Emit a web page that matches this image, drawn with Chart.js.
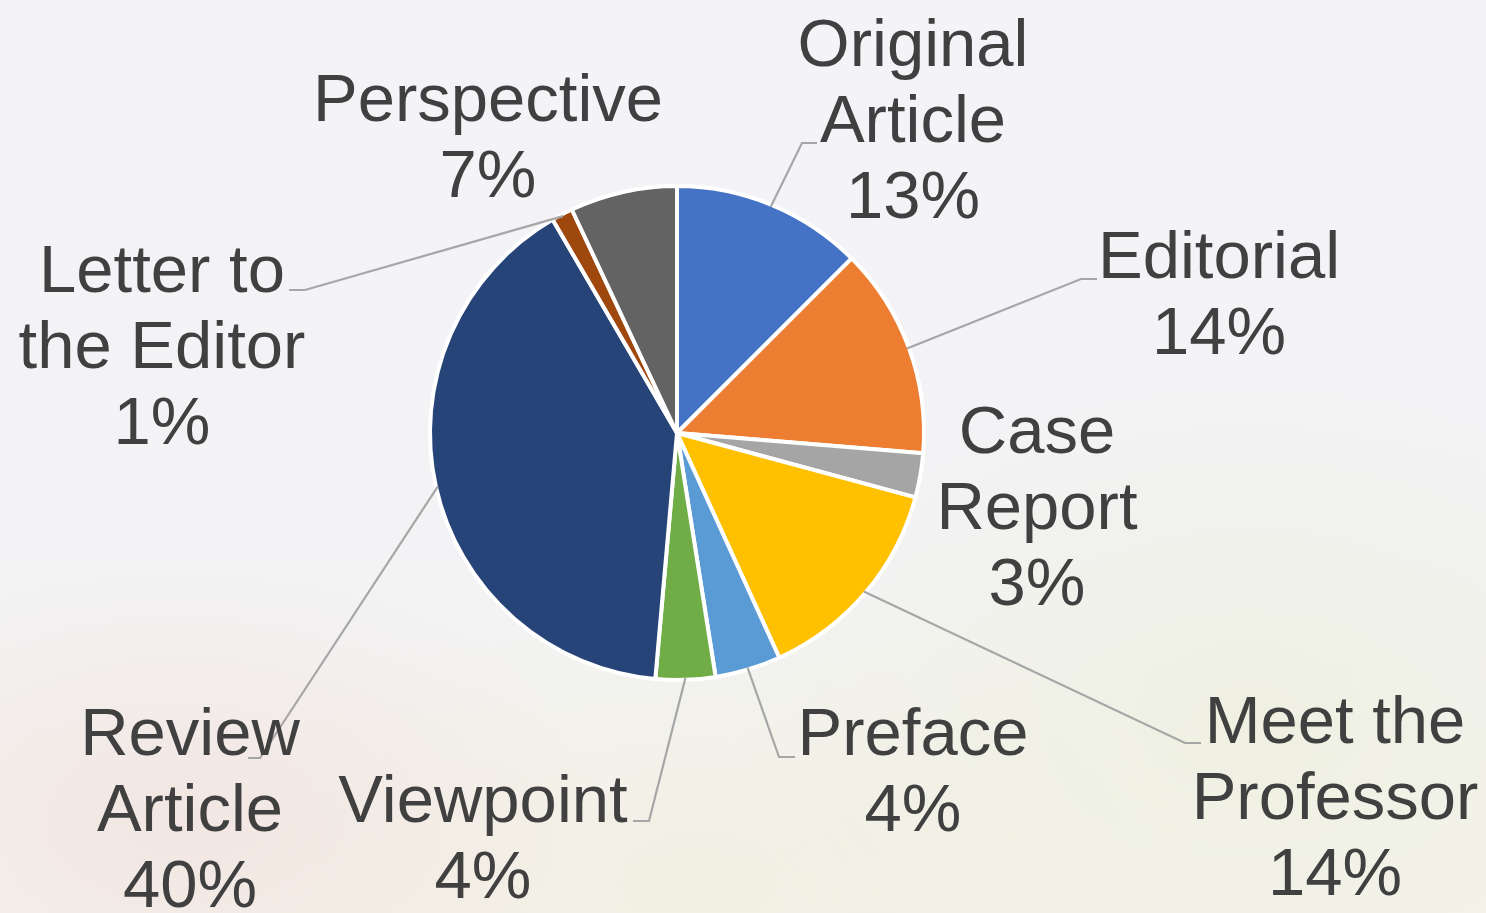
<!DOCTYPE html>
<html>
<head>
<meta charset="utf-8">
<script src="https://cdn.jsdelivr.net/npm/chart.js@4/dist/chart.umd.min.js"></script>
<style>
    html, body {
        margin: 0;
        padding: 0;
        width: 1486px;
        height: 913px;
        overflow: hidden;
    }
    body {
        background:
            radial-gradient(ellipse 420px 260px at 180px 820px, rgba(240, 214, 208, 0.45), rgba(240, 214, 208, 0) 100%),
            radial-gradient(ellipse 520px 360px at 1250px 720px, rgba(234, 236, 206, 0.45), rgba(234, 236, 206, 0) 100%),
            radial-gradient(ellipse 500px 300px at 700px 880px, rgba(240, 236, 214, 0.5), rgba(240, 236, 214, 0) 100%),
            linear-gradient(to bottom, #f4f4f8 0%, #f3f3f6 55%, #f4f3ee 100%);
    }
    #wrap {
        position: absolute;
        left: 0;
        top: 0;
        width: 1486px;
        height: 913px;
    }
</style>
</head>
<body>
<div id="wrap"><canvas id="pieChart"></canvas></div>
<script>
// Categories (multi-line, as they are wrapped on the chart)
const categories = [
    ['Original', 'Article'],
    ['Editorial'],
    ['Case', 'Report'],
    ['Meet the', 'Professor'],
    ['Preface'],
    ['Viewpoint'],
    ['Review', 'Article'],
    ['Letter to', 'the Editor'],
    ['Perspective']
];

// Share of articles (%)
const shares = [12.5, 13.8, 2.9, 14.0, 4.3, 3.9, 40.2, 1.4, 7.0];

// Slice colours
const sliceColors = [
    '#4472C4',  // Original Article
    '#ED7D31',  // Editorial
    '#A5A5A5',  // Case Report
    '#FFC000',  // Meet the Professor
    '#5B9BD5',  // Preface
    '#70AD47',  // Viewpoint
    '#264478',  // Review Article
    '#9E480E',  // Letter to the Editor
    '#636363'   // Perspective
];

// Label placement relative to pie centre: text centre x, first baseline y,
// leader elbow (ex, ey) and end of the short horizontal piece (hx)
const labelLayout = [
    { tx: 236,  ty: -367, ex: 125,  ey: -290, hx: 140 },
    { tx: 542,  ty: -155, ex: 404,  ey: -154, hx: 420 },
    { tx: 360,  ty: 20 },
    { tx: 658,  ty: 310,  ex: 508,  ey: 310,  hx: 524 },
    { tx: 236,  ty: 322,  ex: 102,  ey: 324,  hx: 118 },
    { tx: -194, ty: 389,  ex: -28,  ey: 388,  hx: -44 },
    { tx: -487, ty: 322,  ex: -417, ey: 325,  hx: -429 },
    { tx: -515, ty: -141, ex: -372, ey: -143, hx: -388 },
    { tx: -189, ty: -312 }
];

const total = shares.reduce((a, b) => a + b, 0);

// Plugin: draw leader lines and outside labels
const outsideLabels = {
    id: 'outsideLabels',
    afterDatasetsDraw(chart) {
        const ctx = chart.ctx;
        const arcs = chart.getDatasetMeta(0).data;
        ctx.save();
        arcs.forEach((arc, i) => {
            const { x, y, startAngle, endAngle, outerRadius } = arc.getProps(['x', 'y', 'startAngle', 'endAngle', 'outerRadius'], true);
            const lay = labelLayout[i];
            const mid = (startAngle + endAngle) / 2;

            // Leader line
            if (lay.ex !== undefined) {
                const r = outerRadius - 2;
                ctx.beginPath();
                ctx.moveTo(x + Math.cos(mid) * r, y + Math.sin(mid) * r);
                ctx.lineTo(x + lay.ex, y + lay.ey);
                ctx.lineTo(x + lay.hx, y + lay.ey);
                ctx.strokeStyle = '#a6a6a6';
                ctx.lineWidth = 2.2;
                ctx.stroke();
            }

            // Label text
            const lines = categories[i].concat([Math.round(shares[i] / total * 100) + '%']);
            ctx.fillStyle = '#404040';
            ctx.font = '67px "Liberation Sans", Arial, sans-serif';
            ctx.textAlign = 'center';
            ctx.textBaseline = 'alphabetic';
            lines.forEach((line, k) => {
                ctx.fillText(line, x + lay.tx, y + lay.ty + k * 76);
            });
        });
        ctx.restore();
    }
};

document.addEventListener('DOMContentLoaded', function () {
    const pieCtx = document.getElementById('pieChart').getContext('2d');
    new Chart(pieCtx, {
        type: 'pie',
        data: {
            labels: categories,
            datasets: [{
                data: shares,
                backgroundColor: sliceColors,
                borderColor: '#ffffff',
                borderWidth: 4,
                hoverOffset: 0
            }]
        },
        options: {
            responsive: true,
            maintainAspectRatio: false,
            animation: false,
            layout: {
                padding: { top: 184, bottom: 231, left: 0, right: 132 }
            },
            plugins: {
                legend: { display: false },
                tooltip: { enabled: false }
            }
        },
        plugins: [outsideLabels]
    });
});
</script>
</body>
</html>
